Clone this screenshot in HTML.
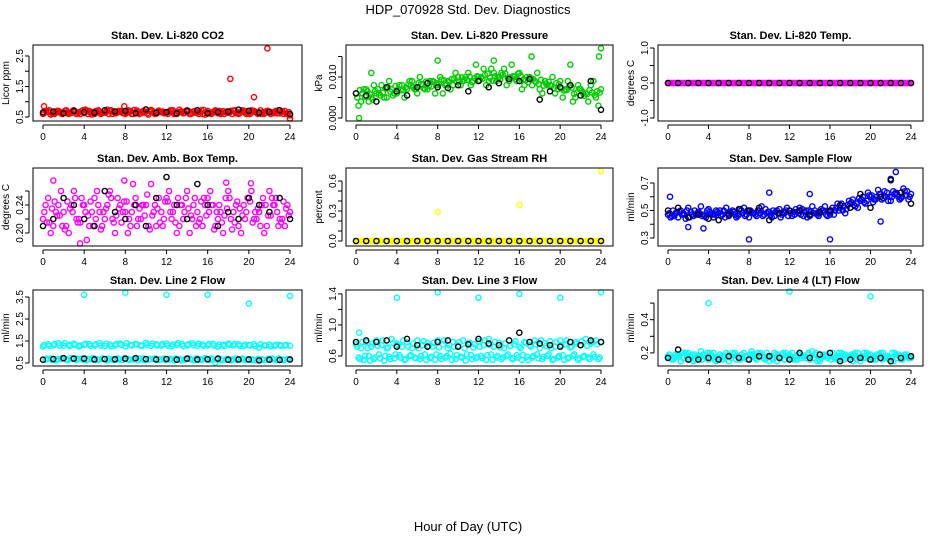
<!DOCTYPE html>
<html><head><meta charset="utf-8"><style>
body{margin:0;background:#fff;}
svg{display:block;font-family:"Liberation Sans",Arial,sans-serif;}
</style></head><body>
<svg id="chart" width="936" height="540" viewBox="0 0 936 540" xmlns="http://www.w3.org/2000/svg">
<rect width="936" height="540" fill="#fff"/>
<text x="468" y="14" text-anchor="middle" font-size="13">HDP_070928  Std. Dev. Diagnostics</text>
<text x="468" y="531" text-anchor="middle" font-size="13">Hour of Day (UTC)</text>
</svg>
<script>
const xTicks = [0,4,8,12,16,20,24];
// P1 CO2
const p1A=[0.6,0.68,0.62,0.7,0.65,0.6,0.72,0.66,0.63,0.7,0.6,0.68,0.64,0.71,0.62,0.67,0.6,0.7,0.65,0.62,0.68,0.73,0.61,0.66,0.64,0.7,0.6,0.67,0.72,0.63,0.65,0.6,0.7,0.66,0.62,0.69,0.64,0.71,0.6,0.67,0.63,0.7,0.65,0.61,0.68,0.66,0.62,0.7,0.55];
const p1B=[0.7,0.58,0.66,0.62,0.72,0.64,0.6,0.69,0.7,0.58,0.66,0.62,0.74,0.6,0.68,0.63,0.72,0.6,0.66,0.7,0.58,0.65,0.71,0.62,0.68,0.6,0.74,0.64,0.6,0.7,0.66,0.58,0.64,0.72,0.6,0.66,0.7,0.62,0.68,0.6,0.72,0.64,0.6,0.7,0.65,0.62,0.68,0.6];
const p1C=[0.64,0.72,0.6,0.66,0.7,0.62,0.68,0.6,0.74,0.64,0.69,0.6,0.66,0.72,0.63,0.7,0.65,0.6,0.71,0.67,0.62,0.7,0.64,0.68,0.6,0.72,0.66,0.62,0.7,0.68,0.6,0.73,0.62,0.67,0.7,0.6,0.65,0.72,0.63,0.7,0.6,0.67,0.72,0.64,0.6,0.7,0.66,0.62];
const p1D=[0.66,0.62,0.7,0.6,0.64,0.7,0.62,0.72,0.6,0.66,0.72,0.64,0.6,0.68,0.7,0.62,0.66,0.73,0.6,0.65,0.7,0.6,0.68,0.64,0.72,0.62,0.68,0.7,0.6,0.64,0.72,0.66,0.6,0.7,0.64,0.68,0.6,0.66,0.72,0.62,0.68,0.6,0.66,0.7,0.62,0.72,0.6,0.66];
const p1K=[0.65,0.68,0.62,0.7,0.66,0.64,0.72,0.68,0.7,0.62,0.75,0.64,0.66,0.62,0.7,0.72,0.62,0.66,0.68,0.74,0.7,0.64,0.66,0.72,0.6];
const p1OX=[0.1,7.9,18.2,20.5,21.8,24];
const p1OY=[0.85,0.85,1.75,1.15,2.75,0.45];
// P2 pressure
const p2A=[0.006,0.004,0.007,0.005,0.006,0.008,0.005,0.007,0.006,0.008,0.007,0.009,0.006,0.008,0.007,0.009,0.008,0.006,0.009,0.008,0.01,0.009,0.011,0.009,0.01,0.012,0.009,0.011,0.01,0.012,0.009,0.01,0.011,0.008,0.01,0.009,0.007,0.009,0.008,0.006,0.009,0.007,0.008,0.005,0.007,0.006,0.008,0.005,0.007];
const p2B=[0.003,0.007,0.004,0.008,0.006,0.005,0.009,0.006,0.008,0.005,0.009,0.007,0.01,0.007,0.009,0.006,0.01,0.008,0.007,0.011,0.008,0.01,0.008,0.013,0.01,0.008,0.012,0.009,0.011,0.008,0.013,0.009,0.007,0.01,0.008,0.011,0.006,0.008,0.01,0.007,0.005,0.009,0.004,0.008,0.006,0.004,0.009,0.003];
const p2C=[0.005,0.006,0.0065,0.0045,0.007,0.0062,0.0075,0.0055,0.007,0.0068,0.0082,0.0075,0.0085,0.0072,0.0078,0.0088,0.0083,0.0092,0.0087,0.0096,0.0089,0.0094,0.0101,0.0097,0.0092,0.0105,0.0098,0.0102,0.0094,0.0108,0.0099,0.0095,0.0103,0.0092,0.0097,0.0088,0.0093,0.0084,0.0078,0.0085,0.0072,0.0068,0.0074,0.0062,0.0066,0.0058,0.0062,0.0065];
const p2D=[0.0068,0.0052,0.0058,0.0066,0.0055,0.0072,0.0064,0.0078,0.0068,0.0074,0.0079,0.0071,0.0083,0.0089,0.0077,0.0085,0.0093,0.0082,0.0095,0.0088,0.0099,0.0093,0.0087,0.0102,0.0096,0.0108,0.0091,0.0099,0.0106,0.0096,0.0102,0.0108,0.0093,0.0087,0.0095,0.0083,0.0079,0.0088,0.0073,0.0082,0.0067,0.0077,0.0059,0.0071,0.0054,0.0068,0.0056,0.0062];
const p2K=[0.006,0.0055,0.004,0.0075,0.0065,0.0055,0.0075,0.0085,0.0075,0.0073,0.008,0.0065,0.009,0.0075,0.0085,0.0095,0.009,0.0095,0.0045,0.0065,0.0075,0.008,0.0055,0.009,0.002];
const p2OX=[0.3,1.5,8,13.5,17.2,21,23.8,24];
const p2OY=[0.0,0.011,0.014,0.014,0.015,0.013,0.015,0.017];
// P3 temp
const p3A=[0,0,0,0,0,0,0,0,0,0,0,0,0,0,0,0,0,0,0,0,0,0,0,0,0,0,0,0,0,0,0,0,0,0,0,0,0,0,0,0,0,0,0,0,0,0,0,0,0];
const p3B=[0,0,0,0,0,0,0,0,0,0,0,0,0,0,0,0,0,0,0,0,0,0,0,0,0,0,0,0,0,0,0,0,0,0,0,0,0,0,0,0,0,0,0,0,0,0,0,0];
const p3K=[0,0,0,0,0,0,0,0,0,0,0,0,0,0,0,0,0,0,0,0,0,0,0,0,0];
// P4 amb box temp
const p4A=[0.22,0.25,0.21,0.24,0.23,0.2,0.26,0.22,0.24,0.21,0.25,0.23,0.22,0.26,0.2,0.24,0.23,0.21,0.25,0.22,0.24,0.27,0.21,0.23,0.25,0.22,0.2,0.24,0.26,0.22,0.23,0.21,0.25,0.24,0.22,0.2,0.26,0.23,0.21,0.24,0.25,0.22,0.23,0.2,0.26,0.24,0.22,0.21,0.23];
const p4B=[0.24,0.2,0.23,0.26,0.21,0.24,0.22,0.25,0.19,0.23,0.26,0.21,0.24,0.22,0.25,0.23,0.2,0.27,0.22,0.24,0.21,0.23,0.25,0.22,0.26,0.24,0.21,0.23,0.2,0.25,0.22,0.24,0.26,0.21,0.23,0.25,0.22,0.24,0.2,0.23,0.26,0.22,0.24,0.21,0.25,0.23,0.22,0.24];
const p4C=[0.23,0.215,0.245,0.225,0.205,0.235,0.25,0.215,0.23,0.245,0.22,0.205,0.235,0.25,0.225,0.215,0.245,0.23,0.21,0.24,0.255,0.225,0.235,0.21,0.245,0.23,0.25,0.22,0.235,0.24,0.215,0.25,0.23,0.205,0.24,0.225,0.25,0.215,0.235,0.22,0.245,0.23,0.21,0.24,0.225,0.25,0.215,0.235];
const p4D=[0.215,0.235,0.225,0.21,0.245,0.23,0.215,0.24,0.225,0.21,0.24,0.23,0.255,0.215,0.235,0.245,0.22,0.24,0.235,0.225,0.205,0.24,0.215,0.245,0.23,0.215,0.24,0.25,0.225,0.21,0.245,0.225,0.24,0.23,0.215,0.235,0.205,0.245,0.225,0.25,0.215,0.235,0.25,0.225,0.24,0.21,0.245,0.225];
const p4K=[0.21,0.22,0.25,0.24,0.22,0.21,0.26,0.23,0.22,0.24,0.21,0.25,0.28,0.24,0.22,0.27,0.24,0.21,0.23,0.22,0.25,0.24,0.23,0.25,0.22];
const p4OX=[1,3.6,7.9,17.8,20.2];
const p4OY=[0.275,0.185,0.275,0.272,0.271];
// P5 RH
const p5A=[0,0,0,0,0,0,0,0,0,0,0,0,0,0,0,0,0,0,0,0,0,0,0,0,0,0,0,0,0,0,0,0,0,0,0,0,0,0,0,0,0,0,0,0,0,0,0,0,0];
const p5B=[0,0,0,0,0,0,0,0,0,0,0,0,0,0,0,0,0,0,0,0,0,0,0,0,0,0,0,0,0,0,0,0,0,0,0,0,0,0,0,0,0,0,0,0,0,0,0,0];
const p5K=[0,0,0,0,0,0,0,0,0,0,0,0,0,0,0,0,0,0,0,0,0,0,0,0,0];
const p5OX=[8,16,24];
const p5OY=[0.29,0.36,0.7];
// P6 sample flow
const p6A=[0.47,0.5,0.45,0.48,0.52,0.46,0.49,0.47,0.51,0.45,0.48,0.5,0.46,0.49,0.47,0.52,0.45,0.48,0.5,0.47,0.49,0.46,0.51,0.48,0.5,0.47,0.52,0.49,0.46,0.5,0.48,0.53,0.47,0.5,0.52,0.48,0.55,0.53,0.57,0.55,0.6,0.58,0.62,0.6,0.57,0.63,0.59,0.61,0.62];
const p6B=[0.45,0.48,0.5,0.44,0.49,0.47,0.53,0.45,0.48,0.5,0.46,0.52,0.48,0.45,0.5,0.47,0.49,0.46,0.53,0.48,0.45,0.5,0.47,0.52,0.46,0.49,0.51,0.45,0.53,0.47,0.5,0.46,0.52,0.55,0.5,0.54,0.58,0.52,0.6,0.63,0.56,0.65,0.59,0.57,0.64,0.6,0.66,0.58];
const p6C=[0.48,0.46,0.49,0.47,0.45,0.5,0.48,0.46,0.49,0.47,0.5,0.45,0.49,0.47,0.51,0.46,0.5,0.47,0.48,0.51,0.47,0.49,0.45,0.5,0.48,0.51,0.47,0.5,0.49,0.48,0.51,0.47,0.5,0.52,0.55,0.51,0.56,0.55,0.58,0.57,0.61,0.6,0.58,0.63,0.6,0.62,0.6,0.64];
const p6D=[0.46,0.49,0.47,0.5,0.47,0.48,0.46,0.5,0.47,0.49,0.47,0.48,0.5,0.46,0.48,0.5,0.48,0.5,0.46,0.49,0.5,0.48,0.49,0.46,0.49,0.48,0.46,0.5,0.48,0.46,0.5,0.49,0.47,0.5,0.53,0.57,0.54,0.59,0.56,0.61,0.58,0.62,0.64,0.6,0.62,0.58,0.64,0.6];
const p6K=[0.5,0.52,0.45,0.47,0.44,0.43,0.47,0.51,0.5,0.52,0.43,0.48,0.5,0.5,0.47,0.49,0.5,0.54,0.52,0.62,0.52,0.6,0.72,0.63,0.55];
const p6OX=[0.2,2,3.5,8,16,10,22.5,21,14,22];
const p6OY=[0.6,0.38,0.37,0.29,0.29,0.63,0.78,0.42,0.62,0.73];
// P7 line 2
const p7A=[1.25,1.35,1.3,1.4,1.28,1.33,1.38,1.25,1.32,1.36,1.3,1.4,1.27,1.34,1.3,1.38,1.26,1.33,1.37,1.3,1.42,1.28,1.35,1.3,1.38,1.26,1.32,1.36,1.3,1.4,1.28,1.34,1.3,1.37,1.25,1.33,1.38,1.3,1.35,1.27,1.32,1.36,1.2,1.3,1.34,1.28,1.32,1.3,1.28];
const p7B=[0.65,0.7,0.62,0.68,0.66,0.72,0.64,0.7,0.63,0.68,0.66,0.7,0.62,0.67,0.71,0.64,0.68,0.66,0.62,0.7,0.65,0.68,0.64,0.7,0.66,0.62,0.68,0.65,0.7,0.63,0.67,0.72,0.64,0.52,0.68,0.65,0.62,0.7,0.66,0.64,0.68,0.63,0.67,0.65,0.7,0.64,0.66,0.68];
const p7C=[1.32,1.28,1.36,1.3,1.4,1.27,1.33,1.3,1.37,1.28,1.35,1.3,1.38,1.26,1.36,1.32,1.4,1.3,1.35,1.28,1.34,1.38,1.3,1.36,1.29,1.34,1.4,1.27,1.35,1.31,1.38,1.28,1.36,1.3,1.34,1.27,1.33,1.36,1.28,1.34,1.3,1.27,1.35,1.3,1.26,1.33,1.28,1.32];
const p7D=[0.7,0.64,0.68,0.72,0.63,0.68,0.7,0.65,0.69,0.72,0.64,0.68,0.7,0.63,0.66,0.7,0.64,0.69,0.7,0.63,0.68,0.71,0.66,0.64,0.69,0.7,0.63,0.67,0.66,0.7,0.64,0.68,0.7,0.65,0.63,0.69,0.67,0.64,0.7,0.66,0.63,0.69,0.64,0.68,0.66,0.7,0.63,0.67];
const p7K=[0.65,0.68,0.72,0.7,0.7,0.66,0.68,0.67,0.7,0.72,0.68,0.66,0.68,0.65,0.7,0.66,0.67,0.7,0.65,0.66,0.66,0.62,0.65,0.64,0.66];
const p7OX=[4,8,12,16,20,24];
const p7OY=[3.6,3.7,3.6,3.6,3.2,3.55];
// P8 line 3
const p8A=[0.75,0.7,0.78,0.72,0.8,0.74,0.7,0.82,0.76,0.72,0.78,0.7,0.8,0.74,0.77,0.72,0.8,0.75,0.7,0.78,0.73,0.8,0.76,0.71,0.79,0.74,0.82,0.72,0.77,0.7,0.8,0.75,0.72,0.78,0.74,0.8,0.7,0.76,0.79,0.72,0.8,0.75,0.71,0.78,0.74,0.82,0.76,0.8,0.78];
const p8B=[0.58,0.55,0.6,0.56,0.62,0.54,0.59,0.57,0.61,0.55,0.6,0.58,0.56,0.62,0.57,0.55,0.6,0.58,0.63,0.56,0.59,0.54,0.61,0.57,0.6,0.55,0.62,0.58,0.56,0.6,0.57,0.61,0.55,0.59,0.58,0.62,0.56,0.6,0.55,0.58,0.61,0.57,0.6,0.55,0.59,0.58,0.62,0.56];
const p8C=[0.72,0.78,0.7,0.76,0.73,0.8,0.71,0.77,0.74,0.8,0.72,0.76,0.7,0.79,0.73,0.77,0.71,0.8,0.74,0.72,0.78,0.7,0.77,0.75,0.72,0.8,0.74,0.78,0.71,0.76,0.73,0.79,0.7,0.77,0.72,0.75,0.8,0.73,0.7,0.78,0.74,0.8,0.72,0.76,0.79,0.73,0.78,0.75];
const p8D=[0.56,0.6,0.54,0.58,0.57,0.6,0.56,0.62,0.58,0.56,0.61,0.57,0.6,0.55,0.59,0.62,0.56,0.6,0.55,0.61,0.58,0.62,0.56,0.59,0.57,0.61,0.55,0.6,0.58,0.62,0.56,0.58,0.61,0.55,0.6,0.57,0.59,0.62,0.56,0.6,0.55,0.58,0.62,0.57,0.6,0.56,0.59,0.58];
const p8K=[0.78,0.8,0.78,0.8,0.72,0.82,0.74,0.72,0.78,0.8,0.72,0.75,0.82,0.76,0.74,0.8,0.9,0.78,0.76,0.74,0.72,0.78,0.74,0.8,0.78];
const p8OX=[0.3,4,8,12,16,20,24];
const p8OY=[0.9,1.35,1.42,1.35,1.4,1.35,1.42];
// P9 line 4
const p9A=[0.18,0.16,0.19,0.17,0.2,0.15,0.18,0.19,0.16,0.2,0.17,0.18,0.15,0.19,0.17,0.2,0.16,0.18,0.19,0.17,0.15,0.2,0.18,0.16,0.19,0.17,0.2,0.18,0.16,0.19,0.15,0.18,0.2,0.17,0.16,0.19,0.18,0.2,0.15,0.17,0.19,0.16,0.2,0.18,0.17,0.19,0.16,0.18,0.17];
const p9B=[0.17,0.19,0.15,0.2,0.18,0.16,0.21,0.17,0.19,0.15,0.18,0.2,0.17,0.16,0.19,0.18,0.21,0.16,0.18,0.2,0.17,0.15,0.19,0.18,0.2,0.16,0.17,0.19,0.21,0.15,0.18,0.17,0.2,0.16,0.19,0.18,0.15,0.2,0.17,0.19,0.16,0.18,0.2,0.17,0.15,0.19,0.18,0.17];
const p9C=[0.19,0.17,0.18,0.2,0.16,0.19,0.17,0.18,0.2,0.16,0.19,0.17,0.18,0.2,0.16,0.18,0.19,0.17,0.2,0.16,0.18,0.19,0.17,0.2,0.18,0.16,0.19,0.17,0.18,0.2,0.17,0.19,0.16,0.18,0.2,0.17,0.19,0.16,0.18,0.2,0.17,0.19,0.16,0.18,0.2,0.17,0.16,0.19];
const p9D=[0.16,0.18,0.2,0.17,0.19,0.18,0.16,0.2,0.18,0.17,0.16,0.19,0.2,0.18,0.17,0.16,0.19,0.2,0.17,0.18,0.16,0.19,0.2,0.17,0.16,0.19,0.18,0.2,0.17,0.16,0.19,0.18,0.17,0.2,0.16,0.18,0.19,0.17,0.2,0.16,0.18,0.19,0.17,0.16,0.2,0.18,0.19,0.17];
const p9K=[0.17,0.22,0.16,0.16,0.17,0.16,0.18,0.17,0.16,0.18,0.18,0.17,0.16,0.2,0.17,0.19,0.2,0.15,0.16,0.17,0.16,0.17,0.15,0.17,0.18];
const p9OX=[4,12,20];
const p9OY=[0.5,0.57,0.54];

const NS='http://www.w3.org/2000/svg';
const svg=document.getElementById('chart');
function mk(tag,attrs,parent){const e=document.createElementNS(NS,tag);for(const k in attrs)e.setAttribute(k,attrs[k]);(parent||svg).appendChild(e);return e;}

const cols=[[33,302],[346,613],[658,923]];
const rows=[[45,121],[168,246],[290,366]];
const panels=[
 {t:'Stan. Dev. Li-820 CO2',yl:'Licor ppm',c:0,r:0,y0:0.369,y1:2.86,tk:[0.5,1,1.5,2,2.5],lb:[0.5,1.5,2.5],dp:1,col:'#ff0000',S:[p1A,p1B,p1C,p1D],K:p1K,OX:p1OX,OY:p1OY},
 {t:'Stan. Dev. Li-820 Pressure',yl:'kPa',c:1,r:0,y0:-0.00073,y1:0.0178,tk:[0,0.005,0.01,0.015],lb:[0,0.01],dp:3,col:'#00cc00',S:[p2A,p2B,p2C,p2D],K:p2K,OX:p2OX,OY:p2OY},
 {t:'Stan. Dev. Li-820 Temp.',yl:'degrees C',c:2,r:0,y0:-1.086,y1:1.086,tk:[-1,-0.5,0,0.5,1],lb:[-1,0,1],dp:1,col:'#ff00ff',S:[p3A,p3B,p3B,p3B],K:p3K,OX:[],OY:[]},
 {t:'Stan. Dev. Amb. Box Temp.',yl:'degrees C',c:0,r:1,y0:0.1814,y1:0.2929,tk:[0.2,0.22,0.24,0.26],lb:[0.2,0.24],dp:2,col:'#ff00ff',S:[p4A,p4B,p4C,p4D],K:p4K,OX:p4OX,OY:p4OY},
 {t:'Stan. Dev. Gas Stream RH',yl:'percent',c:1,r:1,y0:-0.05,y1:0.73,tk:[0,0.1,0.2,0.3,0.4,0.5,0.6],lb:[0,0.3,0.6],dp:1,col:'#ffff00',S:[p5A,p5B,p5B,p5B],K:p5K,OX:p5OX,OY:p5OY},
 {t:'Stan. Dev. Sample Flow',yl:'ml/min',c:2,r:1,y0:0.2418,y1:0.809,tk:[0.3,0.4,0.5,0.6,0.7],lb:[0.3,0.5,0.7],dp:1,col:'#0000ff',S:[p6A,p6B,p6C,p6D],K:p6K,OX:p6OX,OY:p6OY},
 {t:'Stan. Dev. Line 2 Flow',yl:'ml/min',c:0,r:2,y0:0.364,y1:3.818,tk:[0.5,1.5,2.5,3.5],lb:[0.5,1.5,2.5,3.5],dp:1,col:'#00ffff',S:[p7A,p7B,p7C,p7D],K:p7K,OX:p7OX,OY:p7OY},
 {t:'Stan. Dev. Line 3 Flow',yl:'ml/min',c:1,r:2,y0:0.471,y1:1.45,tk:[0.6,0.8,1,1.2,1.4],lb:[0.6,1,1.4],dp:1,col:'#00ffff',S:[p8A,p8B,p8C,p8D],K:p8K,OX:p8OX,OY:p8OY},
 {t:'Stan. Dev. Line 4 (LT) Flow',yl:'ml/min',c:2,r:2,y0:0.1212,y1:0.5788,tk:[0.2,0.3,0.4,0.5],lb:[0.2,0.4],dp:1,col:'#00ffff',S:[p9A,p9B,p9C,p9D],K:p9K,OX:p9OX,OY:p9OY}
];
const offsets=[0,0.25,0.125,0.375];

panels.forEach((p,pi)=>{
 const [L,R]=cols[p.c],[T,B]=rows[p.r];
 const xs=v=>L+10+v*(R-L-22)/24;
 const ys=v=>B-(v-p.y0)*(B-T)/(p.y1-p.y0);
 const g=mk('g',{});
 
 
 const ti=mk('text',{x:(L+R)/2,y:T-6,'text-anchor':'middle','font-size':11,'font-weight':'bold'},g);
 ti.textContent=p.t;
 
 
 const yt=mk('text',{transform:`translate(${L-24},${(T+B)/2}) rotate(-90)`,'text-anchor':'middle','font-size':10},g);
 yt.textContent=p.yl;
 
 
 const xa=mk('line',{x1:xs(0),x2:xs(24),y1:B+4,y2:B+4,stroke:'#000','stroke-width':1},g);
 
 
 xTicks.forEach(v=>{
  mk('line',{x1:xs(v),x2:xs(v),y1:B+4,y2:B+8,stroke:'#000'},g);
  const t=mk('text',{x:xs(v),y:B+19,'text-anchor':'middle','font-size':10},g);
  t.textContent=v;
  
  
 });
 const ya=mk('line',{x1:L-4,x2:L-4,y1:ys(p.tk[0]),y2:ys(p.tk[p.tk.length-1]),stroke:'#000'},g);
 
 
 p.tk.forEach(v=>{mk('line',{x1:L-8,x2:L-4,y1:ys(v),y2:ys(v),stroke:'#000'},g);});
 p.lb.forEach(v=>{
  const t=mk('text',{transform:`translate(${L-10},${ys(v)}) rotate(-90)`,'text-anchor':'middle','font-size':10},g);
  t.textContent=v.toFixed(p.dp);
  
  
 });
 const dot=(x,y,c,name)=>{
  const e=mk('circle',{cx:xs(x),cy:ys(y),r:2.6,fill:'none',stroke:c,'stroke-width':1.4},g);
  
  
 };
 p.S.forEach((arr,si)=>arr.forEach((v,i)=>dot(offsets[si]+i*0.5,v,p.col,'point-series')));
 p.OX.forEach((x,i)=>dot(x,p.OY[i],p.col,'point-outlier'));
 p.K.forEach((v,i)=>dot(i,v,'#000','point-hourly'));
 const box=mk('rect',{x:L,y:T,width:R-L,height:B-T,fill:'none',stroke:'#000','stroke-width':1},g);
 
 
});
</script>
</body></html>
